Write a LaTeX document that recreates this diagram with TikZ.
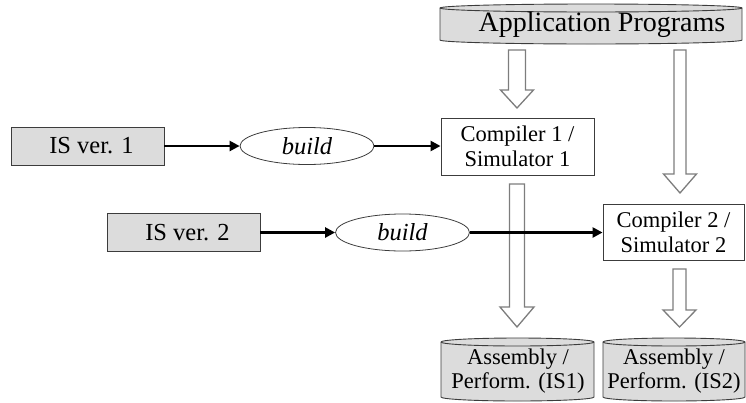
\documentclass[tikz,border=0pt]{standalone}
\usepackage{fontspec}
\setmainfont{Liberation Serif}
\usetikzlibrary{shapes.geometric,arrows.meta}
\definecolor{boxgray}{RGB}{220,220,220}
\definecolor{edgegray}{RGB}{60,60,60}
\definecolor{hollowgray}{RGB}{125,125,125}
\newcommand{\harrow}[6]{% cx, ytop, ybase, ytip, shaft half, head half
  \path[hollowarr] (#1-#5,#2) -- (#1+#5,#2) -- (#1+#5,#3) -- (#1+#6,#3) -- (#1,#4)
    -- (#1-#6,#3) -- (#1-#5,#3) -- cycle;}
\newcommand{\cylshape}[5]{% x1, x2, ytop, ybot, ry
  \path[cylfill] (#1,#3) -- (#1,#4)
    arc[start angle=180,end angle=360,x radius={(#2-#1)/2*1pt},y radius=#5pt]
    -- (#2,#3)
    arc[start angle=0,end angle=180,x radius={(#2-#1)/2*1pt},y radius=#5pt] -- cycle;
  \draw[edgegray,line width=0.9pt] (#2,#3)
    arc[start angle=360,end angle=180,x radius={(#2-#1)/2*1pt},y radius=#5pt];}
\begin{document}
\begin{tikzpicture}[x=1pt,y=-1pt,
  isbox/.style={draw=edgegray,fill=boxgray,line width=0.9pt,minimum width=153pt,minimum height=38pt,inner sep=0pt,font=\fontsize{24.5}{26}\selectfont},
  compbox/.style={draw=edgegray,fill=white,line width=0.9pt,inner sep=0pt,font=\fontsize{22.5}{25}\selectfont,align=center},
  buildell/.style={ellipse,draw=edgegray,line width=0.8pt,minimum width=134pt,minimum height=37pt,inner sep=0pt,font=\itshape\fontsize{24.5}{26}\selectfont},
  conn/.style={line width=2.4pt,-{Triangle[length=10pt,width=10pt]}},
  hollowarr/.style={draw=hollowgray,fill=white,line width=1.3pt,line join=miter},
  cylfill/.style={fill=boxgray,draw=edgegray,line width=0.9pt},
  cyltext/.style={inner sep=0pt,align=center}
]
\useasboundingbox (0,0) rectangle (746,402);

% cylinders
\cylshape{440}{742}{8}{40}{4}
\node[cyltext,font=\fontsize{28}{30}\selectfont] (app) at (602,25) {Application Programs};
\cylshape{441}{594}{342}{397}{4}
\node[cyltext,font=\fontsize{22.5}{24}\selectfont] (asm1) at (518,371) {Assembly /\\Perform. (IS1)};
\cylshape{603}{745}{342}{397}{4}
\node[cyltext,font=\fontsize{22.5}{24}\selectfont] (asm2) at (674,371) {Assembly /\\Perform. (IS2)};

% boxes
\node[isbox] (is1) at (87.5,146) {\hspace*{8pt}IS ver. 1};
\node[buildell] (b1) at (307,146) {build};
\node[compbox,minimum width=153pt,minimum height=57pt] (c1) at (517.5,146.5) {Compiler 1 /\\Simulator 1};
\node[isbox] (is2) at (183.5,232.5) {\hspace*{8pt}IS ver. 2};
\node[buildell] (b2) at (402.5,232.5) {build};
\node[compbox,minimum width=141pt,minimum height=56pt] (c2) at (673.5,232) {Compiler 2 /\\Simulator 2};

% hollow arrows
\harrow{517}{50}{90}{108}{8.5}{16.5}
\harrow{680}{50}{174}{193}{6}{16.5}
\harrow{517}{184}{307}{327}{7.5}{17}
\harrow{679.5}{269}{310}{327}{6.5}{16.5}

% connectors
\draw[conn] (is1.east) -- (b1.west);
\draw[conn] (b1.east) -- (b1.east -| c1.west);
\draw[conn] (is2.east) -- (b2.west);
\draw[conn] (b2.east) -- (b2.east -| c2.west);
\end{tikzpicture}
\end{document}
